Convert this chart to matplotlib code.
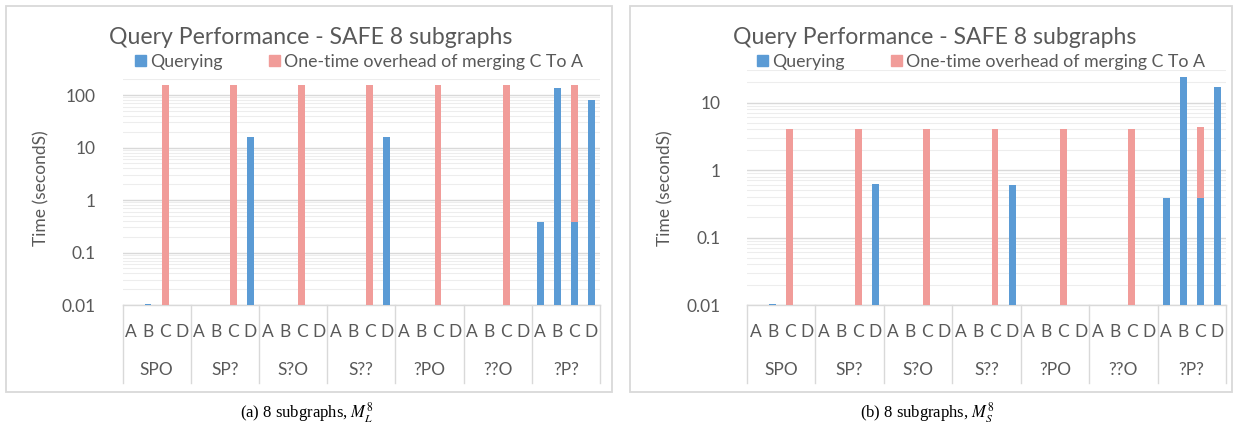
import numpy as np
import matplotlib
matplotlib.use("Agg")
import matplotlib.pyplot as plt
from matplotlib.patches import Patch, Rectangle

plt.rcParams['font.family'] = ['Lato', 'DejaVu Sans']
plt.rcParams['mathtext.fontset'] = 'stix'

groups = ["SPO", "SP?", "S?O", "S??", "?PO", "??O", "?P?"]
subs = ["A", "B", "C", "D"]

# seconds, one row per query pattern, columns A B C D
query_L = [[0, 0.0105, 0, 0],
           [0, 0, 0, 16],
           [0, 0, 0, 0],
           [0, 0, 0, 16],
           [0, 0, 0, 0],
           [0, 0, 0, 0],
           [0.38, 134, 0.38, 81]]
merge_L = [[0, 0, 153, 0]] * 7

query_S = [[0, 0.0105, 0, 0],
           [0, 0, 0, 0.62],
           [0, 0, 0, 0],
           [0, 0, 0, 0.6],
           [0, 0, 0, 0],
           [0, 0, 0, 0],
           [0.38, 23.8, 0.38, 16.9]]
merge_S = [[0, 0, 4.0, 0]] * 7

BLUE = "#5b9bd5"
PINK = "#f19c99"
GREY = "#595959"
LINE = "#d9d9d9"

W, H = 1237, 434
fig = plt.figure(figsize=(W / 100, H / 100), dpi=100)


def px_axes(x0, y0, x1, y1):
    return fig.add_axes([x0 / W, 1 - y1 / H, (x1 - x0) / W, (y1 - y0) / H])


def panel(box, plot, ymax, query, merge, title_x, legend_x, ylabel_x, caption_x, caption):
    fig.patches.append(Rectangle((box[0] / W, 1 - box[3] / H), (box[2] - box[0]) / W,
                                 (box[3] - box[1]) / H, transform=fig.transFigure,
                                 fill=False, edgecolor=LINE, lw=1.3))
    ax = px_axes(*plot)
    ymin = 0.01
    q = np.array(query, dtype=float).ravel()
    m = np.array(merge, dtype=float).ravel()
    x = np.arange(len(q))
    qb = np.where(q > 0, q, np.nan)
    ax.bar(x, qb - ymin, bottom=ymin, width=0.4, color=BLUE, zorder=3)
    base = np.maximum(q, ymin)
    mb = np.where(m > 0, m, np.nan)
    ax.bar(x, q + mb - base, bottom=base, width=0.4, color=PINK, zorder=3)

    ax.set_yscale("log")
    ax.set_ylim(ymin, ymax)
    ax.set_xlim(-0.5, len(q) - 0.5)
    ax.yaxis.set_major_locator(matplotlib.ticker.LogLocator(base=10, numticks=20))
    ax.yaxis.set_minor_locator(matplotlib.ticker.LogLocator(base=10, subs=np.arange(2, 10), numticks=20))
    ax.yaxis.set_major_formatter(matplotlib.ticker.FuncFormatter(lambda v, p: "%g" % v))
    ax.yaxis.set_minor_formatter(matplotlib.ticker.NullFormatter())
    ax.grid(True, which="major", axis="y", color=LINE, lw=1.0, zorder=0)
    ax.grid(True, which="minor", axis="y", color="#ededed", lw=0.8, zorder=0)
    ax.tick_params(axis="y", which="both", length=0, labelsize=12.5, labelcolor=GREY, pad=19)
    ax.set_xticks([])
    for s in ["left", "right", "top"]:
        ax.spines[s].set_visible(False)
    ax.spines["bottom"].set_color(LINE)
    ax.spines["bottom"].set_linewidth(1.0)

    # two-level category axis
    hpx = plot[3] - plot[1]
    for g in range(len(groups) + 1):
        ax.plot([g * 4 - 0.5] * 2, [0, -78 / hpx], color=LINE, lw=1.0,
                transform=ax.get_xaxis_transform(), clip_on=False)
    for i in range(len(q)):
        ax.text(i, -26.7 / hpx, subs[i % 4], ha="center", va="center", fontsize=12.5,
                color=GREY, transform=ax.get_xaxis_transform())
    for g, name in enumerate(groups):
        ax.text(g * 4 + 1.5, -65 / hpx, name, ha="center", va="center", fontsize=12.5,
                color=GREY, transform=ax.get_xaxis_transform())

    fig.text(title_x / W, 1 - 37 / H, "Query Performance - SAFE 8 subgraphs", ha="center",
             va="center", fontsize=16.6, color=GREY)
    fig.text(ylabel_x / W, 1 - 188 / H, "Time (secondS)", rotation=90, ha="center",
             va="center", fontsize=12.5, color=GREY)
    handles = [Patch(color=BLUE, label="Querying"),
               Patch(color=PINK, label="One-time overhead of merging C To A")]
    fig.legend(handles=handles, loc="center", bbox_to_anchor=(legend_x / W, 1 - 62 / H),
               ncol=2, frameon=False, fontsize=12.8, labelcolor=GREY, handlelength=0.6,
               handleheight=0.6, handletextpad=0.25, columnspacing=2.6, borderpad=0)
    fig.text(caption_x / W, 1 - 413 / H, caption, ha="center", va="center", fontsize=12,
             family="Liberation Serif")
    return ax


panel((5.5, 6, 612, 392), (122.5, 79.2, 600, 305), 200, query_L, merge_L,
      311, 359, 41.5, 307, r"(a) 8 subgraphs, $M_L^8$")
panel((630, 6, 1232, 392), (747, 70.3, 1226, 305), 30, query_S, merge_S,
      935, 981, 665, 927, r"(b) 8 subgraphs, $M_S^8$")

fig.savefig("out.png", dpi=100)
